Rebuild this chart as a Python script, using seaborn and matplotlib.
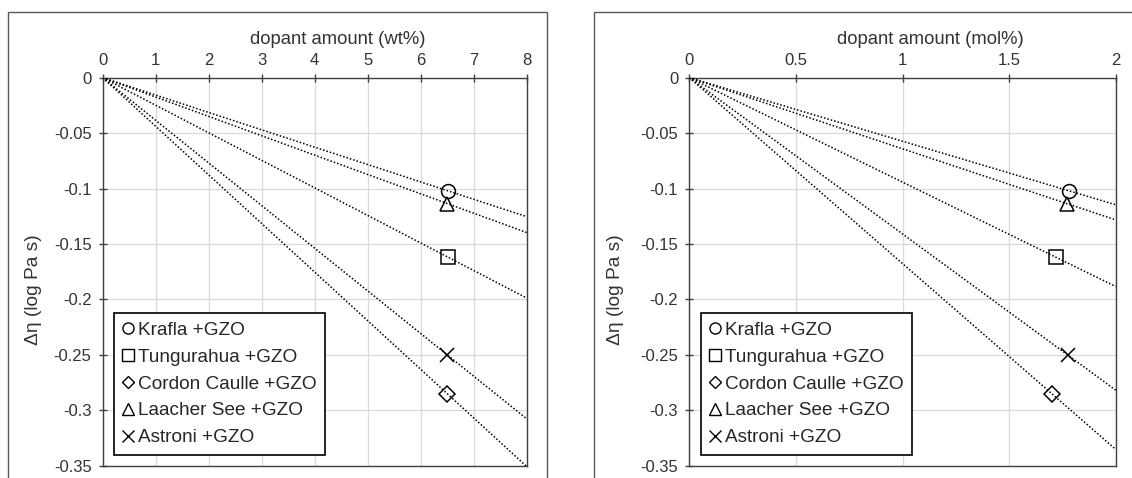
import numpy as np
import pandas as pd
import seaborn as sns
import matplotlib
matplotlib.use('Agg')
import matplotlib.pyplot as plt
from matplotlib.lines import Line2D
from matplotlib.patches import Rectangle
from matplotlib.ticker import FuncFormatter

# 样品与数据
samples = ['Krafla', 'Tungurahua', 'Cordon Caulle', 'Laacher See', 'Astroni']
labels = [s + ' +GZO' for s in samples]
marker_list = ['o', 's', 'D', '^', 'x']
wt_pct = [6.51, 6.52, 6.50, 6.50, 6.50]
mol_pct = [1.78, 1.72, 1.70, 1.77, 1.774]
d_eta = [-0.102, -0.162, -0.285, -0.1135, -0.250]

wt_ticks = [0, 1, 2, 3, 4, 5, 6, 7, 8]
mol_ticks = [0, 0.5, 1, 1.5, 2]
eta_ticks = [0, -0.05, -0.1, -0.15, -0.2, -0.25, -0.3, -0.35]

sns.set_theme(style="whitegrid")
plt.rcParams['font.family'] = ['Liberation Sans', 'DejaVu Sans']
plt.rcParams['axes.unicode_minus'] = False

W, H = 1132, 478
fig = plt.figure(figsize=(W / 100, H / 100), dpi=100)
fig.patch.set_facecolor('white')

# 外框 (chart area borders)
for x0, x1 in [(8, 546.7), (594.3, 1145)]:
    fig.patches.append(Rectangle((x0 / W, -0.1), (x1 - x0) / W, 1.1 - 12 / H,
                                 transform=fig.transFigure, fill=False,
                                 edgecolor='#595959', linewidth=1.0, zorder=0))


def fmt(v, pos):
    if abs(v) < 1e-9:
        return '0'
    return f'{v:g}'


def draw_panel(ax, xs, xmax, xticks, xlabel, xlab_pos, ylab_x):
    df = pd.DataFrame({'sample': samples, 'x': xs, 'y': d_eta})
    # 趋势线 (through origin)
    for s in samples:
        row = df[df['sample'] == s]
        slope = (row['x'] * row['y']).sum() / (row['x'] ** 2).sum()
        line = pd.DataFrame({'x': [0, xmax], 'y': [0, slope * xmax]})
        sns.lineplot(data=line, x='x', y='y', ax=ax, color='black',
                     linestyle=(0, (1, 1.3)), linewidth=1.1, legend=False, zorder=3)
    for s, m in zip(samples, marker_list):
        row = df[df['sample'] == s]
        ax.plot(row['x'], row['y'], marker=m, linestyle='none', mfc='none',
                mec='black', mew=1.1, ms=10 if m != 'D' else 8, zorder=4)

    ax.set_xlim(0, xmax)
    ax.set_ylim(-0.35, 0)
    ax.set_xticks(xticks)
    ax.set_yticks(eta_ticks)
    ax.xaxis.set_major_formatter(FuncFormatter(fmt))
    ax.yaxis.set_major_formatter(FuncFormatter(fmt))
    ax.xaxis.tick_top()
    ax.xaxis.set_label_position('top')
    ax.tick_params(axis='both', direction='inout', length=6, width=1,
                   color='#404040', labelsize=12, labelcolor='#333333')
    ax.tick_params(axis='x', pad=4, top=True, bottom=False)
    ax.tick_params(axis='y', pad=5, left=True)
    ax.grid(True, color='#d9d9d9', linewidth=0.9)
    for sp in ax.spines.values():
        sp.set_visible(True)
        sp.set_color('#404040')
        sp.set_linewidth(1.0)
    ax.set_xlabel(xlabel, fontsize=13.3, color='#333333')
    ax.set_ylabel('Δη (log Pa s)', fontsize=13.8, color='#333333')
    ax.xaxis.set_label_coords(xlab_pos, 1.087)
    ax.yaxis.set_label_coords(ylab_x, 0.453)

    handles = [Line2D([], [], marker=m, linestyle='none', mfc='none', mec='black',
                      mew=1.0, ms=8 if m != 'D' else 6) for m in marker_list]
    leg = ax.legend(handles, labels, loc='lower left', bbox_to_anchor=(0.027, 0.028),
                    borderaxespad=0, frameon=True, fancybox=False, framealpha=1,
                    edgecolor='black', fontsize=13.7, handlelength=0.6,
                    handletextpad=0.2, labelspacing=0.5, borderpad=0.45)
    leg.get_frame().set_linewidth(1.2)
    for t in leg.get_texts():
        t.set_color('#262626')


ax1 = fig.add_axes([102.7 / W, 1 - 465.7 / H, 424 / W, 388 / H])
ax2 = fig.add_axes([689.3 / W, 1 - 465.7 / H, 426.4 / W, 388 / H])
draw_panel(ax1, wt_pct, 8, wt_ticks, 'dopant amount (wt%)', 0.555, -0.142)
draw_panel(ax2, mol_pct, 2, mol_ticks, 'dopant amount (mol%)', 0.566, -0.153)

fig.savefig('out.png', dpi=100)
